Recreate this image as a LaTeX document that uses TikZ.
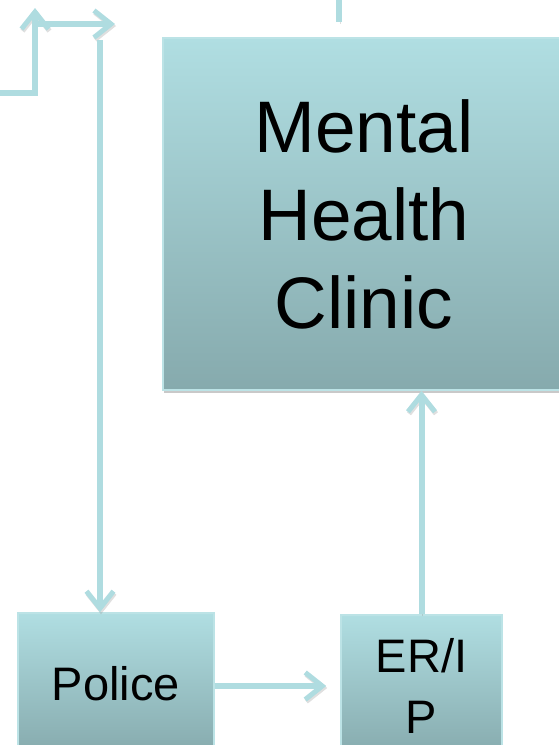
\documentclass[tikz,border=0pt]{standalone}
\usepackage{fontspec}
\setmainfont{Liberation Sans}
\usetikzlibrary{arrows.meta,shadows}
\definecolor{linec}{HTML}{AFDCE0}
\definecolor{boxtop}{HTML}{B0DEE2}
\definecolor{boxbot}{HTML}{86AAAD}
\definecolor{boxedge}{HTML}{BCE3E6}
\tikzset{
  flowbox/.style={draw=boxedge, line width=1.5pt, top color=boxtop, bottom color=boxbot,
    inner sep=0pt, align=center, text=black,
    drop shadow={shadow xshift=1pt, shadow yshift=-3pt, opacity=0.3, fill=black!70}},
  conn/.style={draw=linec, line width=6pt,
    preaction={draw=black!50, opacity=0.25, transform canvas={xshift=1pt,yshift=-2pt}}},
  tip/.style={-{Straight Barb[length=17pt,width=27pt,line width=5pt]}}
}
\begin{document}
\begin{tikzpicture}[x=1pt,y=-1pt]
\useasboundingbox (0,0) rectangle (558,745);
% boxes
\node[flowbox, minimum width=402pt, minimum height=352pt, font=\fontsize{73}{88}\selectfont]
  (clinic) at (364,214) {Mental\\Health\\Clinic};
\node[flowbox, minimum width=196pt, minimum height=142pt, font=\fontsize{47}{61}\selectfont]
  (police) at (116,684) {Police};
\node[flowbox, minimum width=161pt, minimum height=142pt, font=\fontsize{47}{61}\selectfont]
  (er) at (421.5,686) {ER/I\\P};
% free ends
\coordinate (lin) at (0,93);
\coordinate (lcorner) at (35,93);
\coordinate (ltop) at (35,8);
\coordinate (hstart) at (35,24);
\coordinate (hend) at (115,24);
\coordinate (vstart) at (100,40);
\coordinate (ttop) at (339,0);
\coordinate (tbot) at (339,22);
% connectors
\draw[conn, tip] (lin) -- (lcorner) -- (ltop);
\draw[conn, tip] (hstart) -- (hend);
\draw[conn, tip] (vstart) -- (police.north -| vstart);
\draw[conn] (ttop) -- (tbot);
\draw[conn, tip] (er.north) -- (clinic.south -| er.north);
\draw[conn, tip, shorten >=14pt] (police.east |- er.west) -- (er.west);
\end{tikzpicture}
\end{document}
